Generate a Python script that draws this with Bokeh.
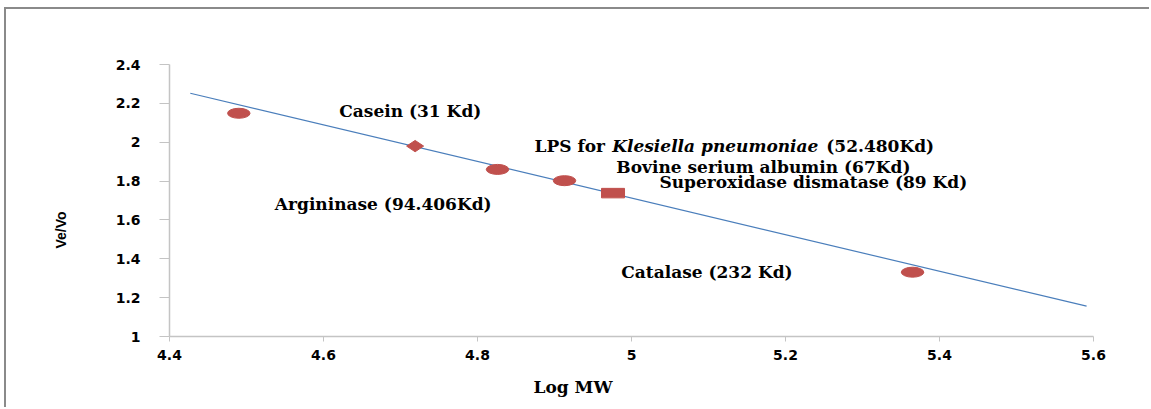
import math
from bokeh.plotting import figure
from bokeh.models import Range1d, FixedTicker, Label, Title
from bokeh.embed import file_html
from bokeh.resources import INLINE

# ---------------- data ----------------
circle_x = [4.490, 4.826, 4.913, 5.365]
circle_y = [2.149, 1.860, 1.802, 1.331]
diamond_x = [4.719]
diamond_y = [1.980]
square_x = [4.976]
square_y = [1.738]
trend_x = [4.427, 5.591]
trend_y = [2.252, 1.156]

x_ticks = [4.4, 4.6, 4.8, 5.0, 5.2, 5.4, 5.6]
x_tick_labels = ["4.4", "4.6", "4.8", "5", "5.2", "5.4", "5.6"]
y_ticks = [1.0, 1.2, 1.4, 1.6, 1.8, 2.0, 2.2, 2.4]
y_tick_labels = ["1", "1.2", "1.4", "1.6", "1.8", "2", "2.2", "2.4"]

label_texts = ["Casein  (31 Kd)", "Bovine serium albumin (67Kd)",
               "Superoxidase dismatase (89 Kd)", "Argininase (94.406Kd)",
               "Catalase (232 Kd)"]
label_x = [4.7166, 5.1713, 5.2362, 4.6776, 5.098]
label_y = [2.160, 1.870, 1.793, 1.683, 1.331]

lps_texts = ["LPS for", "Klesiella pneumoniae", "(52.480Kd)"]
lps_styles = ["bold", "bold italic", "bold"]
lps_x = [4.874, 4.975, 5.253]
lps_y = [1.981, 1.981, 1.981]

x_title = "Log MW"
y_title = "Ve/Vo"

# ---------------- figure ----------------
W, H = 1145, 400
p = figure(width=W, height=H, output_backend="svg", toolbar_location=None,
           x_range=Range1d(4.4, 5.6), y_range=Range1d(1.0, 2.4),
           min_border_left=162, min_border_right=58, min_border_top=55,
           min_border_bottom=73)
p.styles = {"margin-left": "4px", "margin-top": "7px",
            "border-left": "2px solid #8a8a8a", "border-top": "2px solid #8a8a8a"}
p.outline_line_color = None
p.xgrid.grid_line_color = None
p.ygrid.grid_line_color = None
p.background_fill_color = "white"
p.border_fill_color = "white"

axis_gray = "#c4c4c4"
for ax in (p.xaxis[0], p.yaxis[0]):
    ax.axis_line_color = axis_gray
    ax.axis_line_width = 1.5
    ax.major_tick_line_color = axis_gray
    ax.minor_tick_line_color = None
    ax.major_tick_in = 0
    ax.major_label_text_font = "DejaVu Sans"
    ax.major_label_text_font_style = "bold"
    ax.major_label_text_font_size = "14px"
    ax.major_label_text_color = "black"

p.xaxis.ticker = FixedTicker(ticks=x_ticks)
p.xaxis.major_label_overrides = {t: l for t, l in zip(x_ticks, x_tick_labels)}
p.xaxis.major_tick_out = 5
p.xaxis.major_label_standoff = 8
p.yaxis.ticker = FixedTicker(ticks=y_ticks)
p.yaxis.major_label_overrides = {t: l for t, l in zip(y_ticks, y_tick_labels)}
p.yaxis.major_tick_out = 10
p.yaxis.major_label_standoff = 19

red = "#c0504d"
p.line(trend_x, trend_y, line_color="#4a7ebb", line_width=1.2)
p.ellipse(circle_x, circle_y, width=22.5, height=10, width_units="screen",
          height_units="screen", fill_color=red, line_color=red)
p.scatter(diamond_x, diamond_y, marker="diamond", size=17, angle=math.pi / 2,
          fill_color=red, line_color=red)
p.rect(square_x, square_y, width=23, height=9.5, width_units="screen",
       height_units="screen", fill_color=red, line_color=red)

serif = "DejaVu Serif"
for t, x, y in zip(label_texts, label_x, label_y):
    p.add_layout(Label(x=x, y=y, text=t, text_font=serif, text_font_style="bold",
                       text_font_size="17px", text_align="center",
                       text_baseline="middle", text_color="black"))
for t, s, x, y in zip(lps_texts, lps_styles, lps_x, lps_y):
    p.add_layout(Label(x=x, y=y, text=t, text_font=serif, text_font_style=s,
                       text_font_size="17px", text_align="left",
                       text_baseline="middle", text_color="black"))

# axis titles (side-panel titles so they can sit off-centre like the reference)
p.add_layout(Title(text=x_title, align="left", offset=364, standoff=24,
                   text_font=serif, text_font_style="bold", text_font_size="17px",
                   text_color="black"), "below")
p.add_layout(Title(text=y_title, align="left", offset=88, standoff=88,
                   text_font="Liberation Sans", text_font_style="bold",
                   text_font_size="14px", text_color="black"), "left")

open("out.html", "w").write(file_html(p, INLINE))
